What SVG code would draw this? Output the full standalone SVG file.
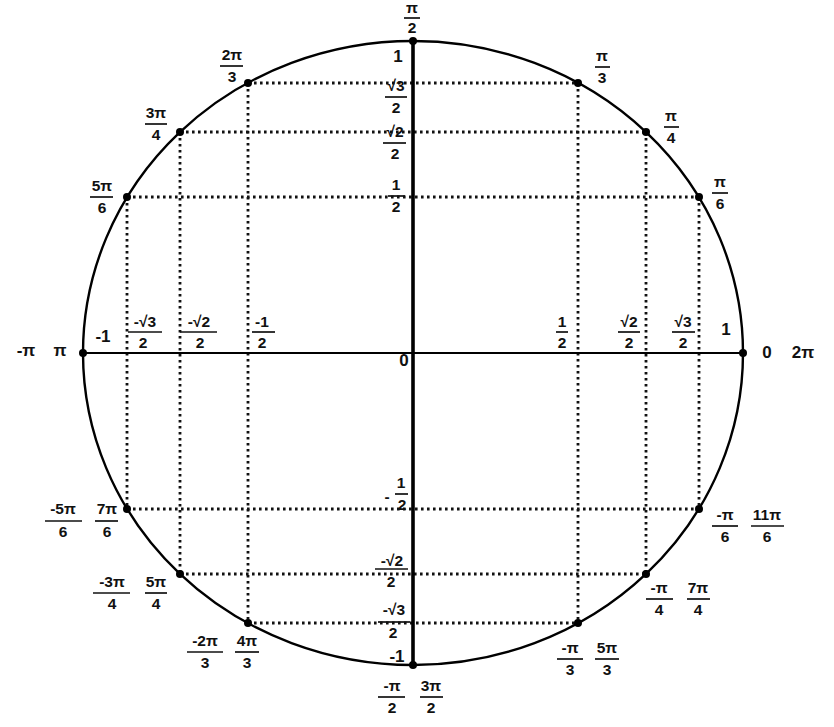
<svg xmlns="http://www.w3.org/2000/svg" width="834" height="727" viewBox="0 0 834 727">
<style>
text{font-family:"Liberation Sans",Arial,sans-serif;font-weight:bold;font-size:15.5px;fill:#111;text-anchor:middle}
.big{font-size:17px}
.bar{stroke:#111;stroke-width:1.7}
.dot{fill:#000}
.dl{stroke:#111;stroke-width:2.8;stroke-dasharray:2.6 3.4;fill:none}
.ax{stroke:#000;fill:none}
</style>
<rect width="834" height="727" fill="#fff"/>
<g id="connectors">
<path class="dl" d="M248 83H578M180 132H646M127 197H699M127 509H699M180 574H646M248 623H578"/>
<path class="dl" d="M127 197V509M180 132V574M248 83V623M578 83V623M646 132V574M699 197V509"/>
</g>
<g id="circle-axes">
<ellipse class="ax" cx="413" cy="353" rx="330" ry="312" stroke-width="2.4"/>
<line class="ax" x1="83" y1="353" x2="743" y2="353" stroke-width="2.2"/>
<line class="ax" x1="413" y1="41" x2="413" y2="665" stroke-width="3.6"/>
</g>
<g id="p0"><circle class="dot" cx="743" cy="353" r="4"/><text class="big" x="767" y="358">0</text><text class="big" x="803" y="358">2π</text></g>
<g id="p30"><circle class="dot" cx="699" cy="197" r="4"/><text x="720" y="187">π</text><line class="bar" x1="712" y1="193" x2="728" y2="193"/><text x="720" y="209">6</text></g>
<g id="p45"><circle class="dot" cx="646" cy="132" r="4"/><text x="671" y="121">π</text><line class="bar" x1="664" y1="127" x2="679" y2="127"/><text x="671" y="143">4</text></g>
<g id="p60"><circle class="dot" cx="578" cy="83" r="4"/><text x="602" y="61">π</text><line class="bar" x1="595" y1="67" x2="610" y2="67"/><text x="602" y="83">3</text></g>
<g id="p90"><circle class="dot" cx="413" cy="41" r="4"/><text x="412" y="13">π</text><line class="bar" x1="404" y1="18" x2="420" y2="18"/><text x="412" y="33">2</text></g>
<g id="p120"><circle class="dot" cx="248" cy="83" r="4"/><text x="232" y="60">2π</text><line class="bar" x1="220" y1="66" x2="243" y2="66"/><text x="232" y="82">3</text></g>
<g id="p135"><circle class="dot" cx="180" cy="132" r="4"/><text x="156" y="118">3π</text><line class="bar" x1="145" y1="124" x2="167" y2="124"/><text x="156" y="140">4</text></g>
<g id="p150"><circle class="dot" cx="127" cy="197" r="4"/><text x="102" y="191">5π</text><line class="bar" x1="90" y1="197" x2="113" y2="197"/><text x="102" y="213">6</text></g>
<g id="p180"><circle class="dot" cx="83" cy="353" r="4"/><text class="big" x="26" y="356">-π</text><text class="big" x="60" y="356">π</text></g>
<g id="p210"><circle class="dot" cx="127" cy="509" r="4"/><text x="63" y="514">-5π</text><line class="bar" x1="45" y1="521" x2="82" y2="521"/><text x="63" y="537">6</text><text x="107" y="514">7π</text><line class="bar" x1="95" y1="521" x2="118" y2="521"/><text x="107" y="537">6</text></g>
<g id="p225"><circle class="dot" cx="180" cy="574" r="4"/><text x="112" y="587">-3π</text><line class="bar" x1="93" y1="593" x2="130" y2="593"/><text x="112" y="609">4</text><text x="156" y="587">5π</text><line class="bar" x1="145" y1="593" x2="167" y2="593"/><text x="156" y="609">4</text></g>
<g id="p240"><circle class="dot" cx="248" cy="623" r="4"/><text x="205" y="646">-2π</text><line class="bar" x1="187" y1="652" x2="223" y2="652"/><text x="205" y="668">3</text><text x="247" y="646">4π</text><line class="bar" x1="235" y1="652" x2="259" y2="652"/><text x="247" y="668">3</text></g>
<g id="p270"><circle class="dot" cx="413" cy="665" r="4"/><text x="392" y="691">-π</text><line class="bar" x1="378" y1="697" x2="405" y2="697"/><text x="392" y="713">2</text><text x="431" y="691">3π</text><line class="bar" x1="420" y1="697" x2="443" y2="697"/><text x="431" y="713">2</text></g>
<g id="p300"><circle class="dot" cx="578" cy="623" r="4"/><text x="570" y="653">-π</text><line class="bar" x1="557" y1="659" x2="583" y2="659"/><text x="570" y="675">3</text><text x="607" y="653">5π</text><line class="bar" x1="595" y1="659" x2="619" y2="659"/><text x="607" y="675">3</text></g>
<g id="p315"><circle class="dot" cx="646" cy="574" r="4"/><text x="659" y="593">-π</text><line class="bar" x1="646" y1="599" x2="673" y2="599"/><text x="659" y="615">4</text><text x="698" y="593">7π</text><line class="bar" x1="687" y1="599" x2="710" y2="599"/><text x="698" y="615">4</text></g>
<g id="p330"><circle class="dot" cx="699" cy="509" r="4"/><text x="725" y="520">-π</text><line class="bar" x1="712" y1="526" x2="738" y2="526"/><text x="725" y="542">6</text><text x="767" y="520">11π</text><line class="bar" x1="751" y1="526" x2="784" y2="526"/><text x="767" y="542">6</text></g>
<g id="origin"><text class="big" x="404" y="366">0</text></g>
<g id="y-labels">
<text class="big" x="398" y="62">1</text>
<text x="396" y="91">√3</text><line class="bar" x1="385" y1="97" x2="407" y2="97"/><text x="396" y="113">2</text>
<text x="395" y="137">√2</text><line class="bar" x1="383" y1="143" x2="406" y2="143"/><text x="395" y="159">2</text>
<text x="396" y="190">1</text><line class="bar" x1="388" y1="196" x2="405" y2="196"/><text x="396" y="212">2</text>
<text x="387" y="502">-</text><text x="401" y="488">1</text><line class="bar" x1="395" y1="494" x2="408" y2="494"/><text x="402" y="510">2</text>
<text x="392" y="566">-√2</text><line class="bar" x1="375" y1="569" x2="408" y2="569"/><text x="391" y="587">2</text>
<text x="394" y="615">-√3</text><line class="bar" x1="378" y1="622" x2="410" y2="622"/><text x="393" y="638">2</text>
<text class="big" x="397" y="662">-1</text>
</g>
<g id="x-labels">
<text class="big" x="103" y="342">-1</text>
<text x="145" y="327">-√3</text><line class="bar" x1="128" y1="332" x2="162" y2="332"/><text x="143" y="348">2</text>
<text x="199" y="327">-√2</text><line class="bar" x1="180" y1="332" x2="217" y2="332"/><text x="200" y="348">2</text>
<text x="262" y="327">-1</text><line class="bar" x1="252" y1="332" x2="275" y2="332"/><text x="262" y="348">2</text>
<text x="562" y="327">1</text><line class="bar" x1="556" y1="332" x2="568" y2="332"/><text x="562" y="348">2</text>
<text x="629" y="327">√2</text><line class="bar" x1="618" y1="332" x2="640" y2="332"/><text x="629" y="348">2</text>
<text x="683" y="327">√3</text><line class="bar" x1="672" y1="332" x2="695" y2="332"/><text x="683" y="348">2</text>
<text class="big" x="726" y="335">1</text>
</g>
</svg>
